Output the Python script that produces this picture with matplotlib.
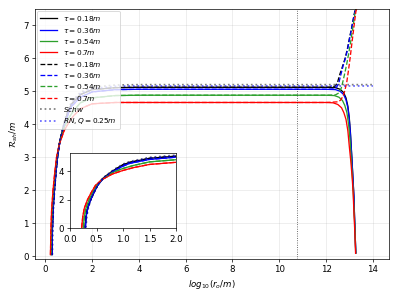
import numpy as np
import matplotlib
matplotlib.use("Agg")
import matplotlib.pyplot as plt

# shadow radius vs log10 observer distance
taus = ["0.18", "0.36", "0.54", "0.7"]
colors = ["k", "b", "C2", "r"]

# rising branch near the horizon (shared by solid and dashed curves)
x_left = [
    [0.285, 0.30, 0.33, 0.39, 0.45, 0.52, 0.62, 0.82, 1.0, 1.13, 1.5, 2.0, 3.0, 4.0],
    [0.29, 0.305, 0.335, 0.39, 0.45, 0.52, 0.62, 0.82, 1.0, 1.13, 1.5, 2.0, 3.0, 4.0],
    [0.25, 0.27, 0.30, 0.36, 0.42, 0.50, 0.60, 0.80, 1.0, 1.2, 1.5, 2.0, 3.0, 4.0],
    [0.22, 0.24, 0.27, 0.33, 0.40, 0.48, 0.60, 0.80, 1.0, 1.2, 1.5, 2.0, 3.0, 4.0],
]
y_left = [
    [0.05, 0.8, 1.4, 2.0, 2.5, 3.0, 3.5, 4.05, 4.45, 4.62, 4.9, 5.05, 5.11, 5.12],
    [0.05, 0.8, 1.4, 2.0, 2.5, 3.0, 3.45, 4.0, 4.35, 4.55, 4.82, 4.98, 5.05, 5.06],
    [0.05, 0.8, 1.4, 2.0, 2.5, 3.0, 3.4, 3.9, 4.19, 4.4, 4.65, 4.8, 4.87, 4.88],
    [0.05, 0.8, 1.4, 2.0, 2.5, 3.0, 3.4, 3.8, 4.05, 4.25, 4.47, 4.62, 4.66, 4.66],
]

# solid: drop near the outer horizon
x_drop = [
    [12.0, 12.4, 12.6, 12.75, 12.85, 12.93, 12.99, 13.04, 13.1, 13.15, 13.19, 13.21, 13.24, 13.27],
    [12.0, 12.4, 12.6, 12.75, 12.85, 12.93, 12.99, 13.04, 13.1, 13.15, 13.19, 13.21, 13.24, 13.27],
    [12.0, 12.35, 12.55, 12.7, 12.8, 12.89, 12.96, 13.02, 13.08, 13.13, 13.17, 13.2, 13.24, 13.265],
    [12.0, 12.3, 12.5, 12.66, 12.76, 12.85, 12.93, 12.99, 13.06, 13.12, 13.16, 13.19, 13.23, 13.26],
]
y_drop = [
    [5.12, 5.11, 5.06, 4.96, 4.8, 4.55, 4.2, 3.75, 3.0, 2.33, 1.8, 1.32, 0.7, 0.1],
    [5.06, 5.05, 5.0, 4.9, 4.74, 4.5, 4.15, 3.7, 2.98, 2.33, 1.8, 1.32, 0.7, 0.1],
    [4.88, 4.87, 4.82, 4.72, 4.57, 4.35, 4.0, 3.55, 2.9, 2.33, 1.82, 1.32, 0.7, 0.1],
    [4.66, 4.65, 4.6, 4.5, 4.35, 4.15, 3.8, 3.34, 2.85, 2.33, 1.85, 1.32, 0.7, 0.09],
]

# dashed: rise near the outer horizon
x_rise = [
    [12.0, 12.25, 12.4, 12.5, 12.59, 12.7, 12.8, 12.9, 12.99, 13.08, 13.16, 13.22, 13.27, 13.32],
    [12.0, 12.3, 12.45, 12.55, 12.63, 12.72, 12.82, 12.92, 13.0, 13.09, 13.17, 13.23, 13.28, 13.33],
    [12.0, 12.4, 12.55, 12.65, 12.72, 12.8, 12.88, 12.96, 13.04, 13.11, 13.18, 13.24, 13.29, 13.34],
    [12.0, 12.5, 12.62, 12.73, 12.8, 12.88, 12.95, 13.02, 13.09, 13.16, 13.22, 13.27, 13.3, 13.35],
]
y_rise = [
    [5.12, 5.13, 5.16, 5.3, 5.52, 5.75, 5.97, 6.25, 6.58, 6.88, 7.18, 7.4, 7.55, 7.8],
    [5.06, 5.07, 5.12, 5.27, 5.5, 5.75, 5.98, 6.27, 6.58, 6.9, 7.2, 7.4, 7.58, 7.8],
    [4.88, 4.89, 4.95, 5.1, 5.3, 5.55, 5.82, 6.12, 6.45, 6.78, 7.1, 7.38, 7.6, 7.8],
    [4.66, 4.68, 4.73, 4.86, 5.02, 5.26, 5.6, 5.97, 6.38, 6.78, 7.12, 7.4, 7.48, 7.8],
]

# reference curves
x_schw = [0.30, 0.32, 0.35, 0.40, 0.46, 0.53, 0.63, 0.82, 1.0, 1.13, 1.5, 2.0, 3.0, 4.0, 14.0]
y_schw = [0.05, 0.9, 1.5, 2.05, 2.55, 3.05, 3.55, 4.1, 4.5, 4.68, 4.97, 5.12, 5.19, 5.2, 5.2]
x_rn = [0.295, 0.31, 0.34, 0.39, 0.45, 0.52, 0.62, 0.82, 1.0, 1.13, 1.5, 2.0, 3.0, 4.0, 14.0]
y_rn = [0.05, 0.85, 1.45, 2.0, 2.5, 3.0, 3.5, 4.05, 4.45, 4.63, 4.93, 5.08, 5.15, 5.16, 5.16]

x_vline = 10.74


def draw(ax):
    for i in range(len(taus)):
        xs = x_left[i] + x_drop[i]
        ys = y_left[i] + y_drop[i]
        ax.plot(xs, ys, c=colors[i], lw=1.5, label=r"$\tau = %s m$" % taus[i])
    for i in range(len(taus)):
        xs = x_left[i] + x_rise[i]
        ys = y_left[i] + y_rise[i]
        ax.plot(xs, ys, c=colors[i], ls="--", lw=1.5, label=r"$\tau = %s m$" % taus[i])
    ax.plot(x_schw, y_schw, c="k", ls=":", lw=2, alpha=0.5, label=r"$Schw$")
    ax.plot(x_rn, y_rn, c="b", ls=":", lw=2, alpha=0.6, label=r"$RN, Q = 0.25m$")


fig = plt.figure(figsize=(6.4, 4.8), dpi=62.35)
ax = fig.add_axes([35/399, 1-259/299, 354/399, 250/299])
draw(ax)
ax.axvline(x_vline, c="k", ls=":", lw=1, alpha=0.7)
ax.set_ylim(-0.08, 7.5)
ax.set_xlim(-0.44, 14.69)
ax.grid(alpha=0.3)
ax.set_xlabel(r"$log_{10}(r_o/m)$")
ax.set_ylabel(r"$\mathcal{R}_{sh}/m$")
ax.legend(loc="upper left", fontsize=8.5, labelspacing=0.32, handlelength=2.3,
          borderaxespad=0.3)

axin = fig.add_axes([70/399, 1-228.3/299, 106/399, 75/299])
draw(axin)
axin.set_xlim(0, 2)
axin.set_ylim(0, 5.26)
axin.set_xticks([0.0, 0.5, 1.0, 1.5, 2.0])
axin.set_yticks([0, 2, 4])

plt.savefig("out.png", dpi=62.35)
